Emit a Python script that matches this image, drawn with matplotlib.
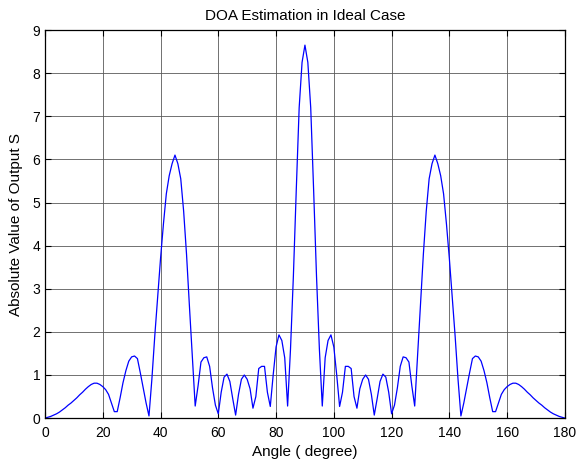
import numpy as np
import matplotlib
matplotlib.use("Agg")
import matplotlib.pyplot as plt

plt.rcParams['font.family'] = ['Liberation Sans', 'DejaVu Sans']

# angulos 0..180 con paso de 1 grado
angle = np.arange(0, 181)

# valores (|S|)
s_0_45 = [0.00, 0.02, 0.04, 0.07, 0.10, 0.14, 0.19, 0.24, 0.30, 0.35,
          0.41, 0.47, 0.54, 0.60, 0.67, 0.73, 0.78, 0.81, 0.81, 0.78,
          0.73, 0.66, 0.55, 0.35, 0.15, 0.15, 0.47, 0.82, 1.10, 1.32,
          1.42, 1.44, 1.38, 1.05, 0.70, 0.35, 0.05, 0.90, 1.90, 2.80,
          3.70, 4.50, 5.20, 5.62, 5.90, 6.10]
s_46_90 = [5.90, 5.55, 4.80, 3.80, 2.60, 1.45, 0.28, 0.75, 1.30, 1.40,
           1.42, 1.20, 0.70, 0.30, 0.10, 0.60, 0.95, 1.02, 0.85, 0.45,
           0.07, 0.55, 0.90, 1.00, 0.90, 0.68, 0.23, 0.50, 1.15, 1.20,
           1.20, 0.60, 0.27, 1.00, 1.65, 1.93, 1.80, 1.40, 0.28, 1.60,
           3.30, 5.30, 7.20, 8.25, 8.65]
s_91_135 = [8.25, 7.20, 5.30, 3.30, 1.60, 0.28, 1.40, 1.80, 1.93, 1.65,
            1.00, 0.27, 0.60, 1.20, 1.20, 1.15, 0.50, 0.23, 0.68, 0.90,
            1.00, 0.90, 0.55, 0.07, 0.45, 0.85, 1.02, 0.95, 0.60, 0.10,
            0.30, 0.70, 1.20, 1.42, 1.40, 1.30, 0.75, 0.28, 1.45, 2.60,
            3.80, 4.80, 5.55, 5.90, 6.10]
s_136_180 = [5.90, 5.62, 5.20, 4.50, 3.70, 2.80, 1.90, 0.90, 0.05, 0.35,
             0.70, 1.05, 1.38, 1.44, 1.42, 1.32, 1.10, 0.82, 0.47, 0.15,
             0.15, 0.35, 0.55, 0.66, 0.73, 0.78, 0.81, 0.81, 0.78, 0.73,
             0.67, 0.60, 0.54, 0.47, 0.41, 0.35, 0.30, 0.24, 0.19, 0.14,
             0.10, 0.07, 0.04, 0.02, 0.00]
S = np.array(s_0_45 + s_46_90 + s_91_135 + s_136_180)

xticks = np.arange(0, 181, 20)
yticks = np.arange(0, 10, 1)

fig = plt.figure(figsize=(5.77, 4.62), dpi=100)
ax = fig.add_axes([0.078, 0.095, 0.901, 0.84])

ax.plot(angle, S, color='#0000ff', linewidth=0.9)

ax.set_xlim(0, 180)
ax.set_ylim(0, 9)
ax.set_xticks(xticks)
ax.set_yticks(yticks)
ax.grid(True, color='0.35', linestyle='-', linewidth=0.6)
ax.tick_params(direction='in', top=True, right=True, labelsize=10, length=4, width=0.8)
ax.tick_params(axis='x', pad=6)
for sp in ax.spines.values():
    sp.set_linewidth(0.9)

ax.set_xlabel('Angle ( degree)', fontsize=11, labelpad=3)
ax.set_ylabel('Absolute Value of Output S', fontsize=11, labelpad=7)
ax.set_title('DOA Estimation in Ideal Case', fontsize=11, pad=7)

fig.savefig('out.png', dpi=100)
